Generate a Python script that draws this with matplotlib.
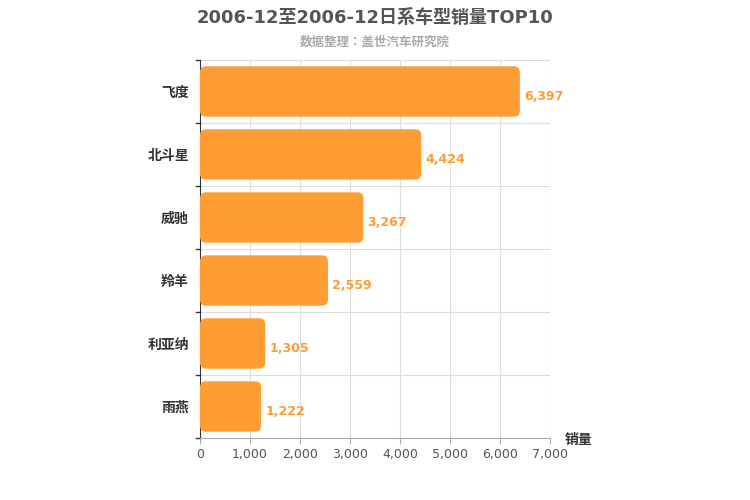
import matplotlib
matplotlib.use("Agg")
import matplotlib.pyplot as plt
from matplotlib.patches import FancyBboxPatch
from matplotlib import font_manager as fm

names = {f.name for f in fm.fontManager.ttflist}
cjk = [n for n in ["Noto Sans CJK SC", "Noto Sans CJK JP", "Noto Sans CJK TC", "Noto Sans CJK KR"] if n in names]
plt.rcParams["font.family"] = ["DejaVu Sans"] + cjk
plt.rcParams["font.sans-serif"] = ["DejaVu Sans"] + cjk

categories = ["飞度", "北斗星", "威驰", "羚羊", "利亚纳", "雨燕"]
values = [6397, 4424, 3267, 2559, 1305, 1222]
xticks = [0, 1000, 2000, 3000, 4000, 5000, 6000, 7000]

fig = plt.figure(figsize=(7.5, 5), dpi=100)
ax = fig.add_axes([200/750, 1-438/500, 350/750, 378/500])
n = len(categories)
ax.set_xlim(0, 7000)
ax.set_ylim(n - 0.5, -0.5)
color = "#ff9c33"
asp = (6/378) / (7000/350)
for i, v in enumerate(values):
    p = FancyBboxPatch((0, i - 0.4), v, 0.8,
                       boxstyle="round,pad=0,rounding_size=120",
                       mutation_aspect=asp, fc=color, ec="none", zorder=3)
    ax.add_patch(p)
    ax.text(v + 80, i + 0.08, f"{v:,}", color=color, fontsize=9,
            fontweight="bold", va="center", ha="left", zorder=4)

ax.set_xticks(xticks)
ax.set_xticklabels([f"{t:,}" for t in xticks], fontsize=9, color="#555555")
ax.set_yticks(range(n))
ax.set_yticklabels(categories, fontsize=10, fontweight="bold", color="#333333")
for t in xticks[1:]:
    ax.axvline(t, color="#dddddd", lw=0.8, zorder=1)
for b in range(n):
    ax.axhline(b - 0.5, color="#dddddd", lw=0.8, zorder=1)
for s in ["top", "right"]:
    ax.spines[s].set_visible(False)
ax.spines["left"].set_color("#333333")
ax.spines["bottom"].set_color("#aaaaaa")
ax.tick_params(axis="y", length=0, pad=8)
ax.tick_params(axis="x", length=4, color="#aaaaaa")
for b in range(n + 1):
    ax.plot([-80, 0], [b - 0.5, b - 0.5], color="#333333", lw=1, clip_on=False)

fig.text(0.5, 1-18/500, "2006-12至2006-12日系车型销量TOP10", ha="center", va="center",
         fontsize=13, fontweight="bold", color="#555555")
fig.text(0.5, 1-42/500, "数据整理：盖世汽车研究院", ha="center", va="center",
         fontsize=9, fontweight="bold", color="#aaaaaa")
fig.text(565/750, 1-440/500, "销量", ha="left", va="center", fontsize=10,
         fontweight="bold", color="#333333")
fig.savefig("out.png", dpi=100)
